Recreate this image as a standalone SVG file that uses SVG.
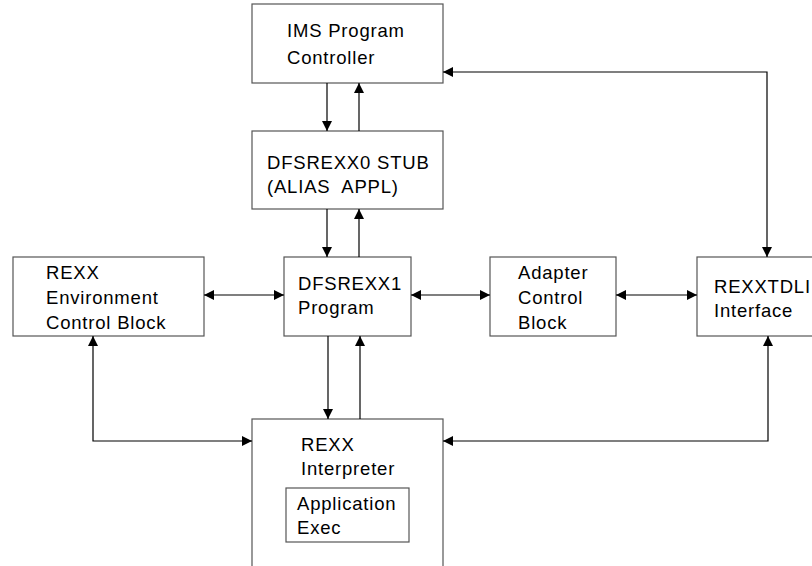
<svg xmlns="http://www.w3.org/2000/svg" width="812" height="566" viewBox="0 0 812 566">
<style>
.box{fill:#fff;stroke:#555;stroke-width:1.2}
.t{font-family:"Liberation Sans",Arial,sans-serif;font-size:18.5px;letter-spacing:0.8px;fill:#000}
.c{fill:none;stroke:#000;stroke-width:1.2}
</style>
<defs>
<marker id="a" viewBox="0 0 10 10" refX="10" refY="5" markerWidth="10" markerHeight="10" markerUnits="userSpaceOnUse" orient="auto-start-reverse">
<path d="M0,0 L10,5 L0,10 Z" fill="#000"/>
</marker>
</defs>
<rect width="812" height="566" fill="#fff"/>
<g id="ims"><rect class="box" x="252" y="4" width="191" height="79"/>
<text class="t" x="287" y="37">IMS Program</text><text class="t" x="287" y="64">Controller</text></g>
<g id="stub"><rect class="box" x="252" y="131" width="191" height="78"/>
<text class="t" x="267" y="169">DFSREXX0 STUB</text><text class="t" x="267" y="193">(ALIAS&#160; APPL)</text></g>
<g id="env"><rect class="box" x="13" y="257" width="191" height="79"/>
<text class="t" x="46" y="279">REXX</text><text class="t" x="46" y="304">Environment</text><text class="t" x="46" y="329">Control Block</text></g>
<g id="dfsrexx1"><rect class="box" x="284" y="257" width="127" height="79"/>
<text class="t" x="298" y="290">DFSREXX1</text><text class="t" x="298" y="314">Program</text></g>
<g id="adapter"><rect class="box" x="490" y="257" width="126" height="79"/>
<text class="t" x="518" y="279">Adapter</text><text class="t" x="518" y="304">Control</text><text class="t" x="518" y="329">Block</text></g>
<g id="rexxtdli"><rect class="box" x="697" y="257" width="130" height="79"/>
<text class="t" x="714" y="293">REXXTDLI</text><text class="t" x="714" y="317">Interface</text></g>
<g id="interp"><rect class="box" x="252" y="419" width="191" height="160"/>
<text class="t" x="301" y="451">REXX</text><text class="t" x="301" y="475">Interpreter</text></g>
<g id="appexec"><rect class="box" x="286" y="488" width="123" height="54"/>
<text class="t" x="297" y="510">Application</text><text class="t" x="297" y="534">Exec</text></g>
<g id="connectors">
<line class="c" x1="327" y1="83" x2="327" y2="131" marker-end="url(#a)"/>
<line class="c" x1="359" y1="131" x2="359" y2="83" marker-end="url(#a)"/>
<line class="c" x1="327" y1="209" x2="327" y2="257" marker-end="url(#a)"/>
<line class="c" x1="359" y1="257" x2="359" y2="209" marker-end="url(#a)"/>
<line class="c" x1="328" y1="336" x2="328" y2="419" marker-end="url(#a)"/>
<line class="c" x1="360" y1="419" x2="360" y2="336" marker-end="url(#a)"/>
<line class="c" x1="204" y1="295" x2="284" y2="295" marker-start="url(#a)" marker-end="url(#a)"/>
<line class="c" x1="411" y1="295" x2="490" y2="295" marker-start="url(#a)" marker-end="url(#a)"/>
<line class="c" x1="616" y1="295" x2="697" y2="295" marker-start="url(#a)" marker-end="url(#a)"/>
<polyline class="c" points="443,72 767,72 767,257" marker-start="url(#a)" marker-end="url(#a)"/>
<polyline class="c" points="93,336 93,441 252,441" marker-start="url(#a)" marker-end="url(#a)"/>
<polyline class="c" points="768,336 768,441 443,441" marker-start="url(#a)" marker-end="url(#a)"/>
</g>
</svg>
